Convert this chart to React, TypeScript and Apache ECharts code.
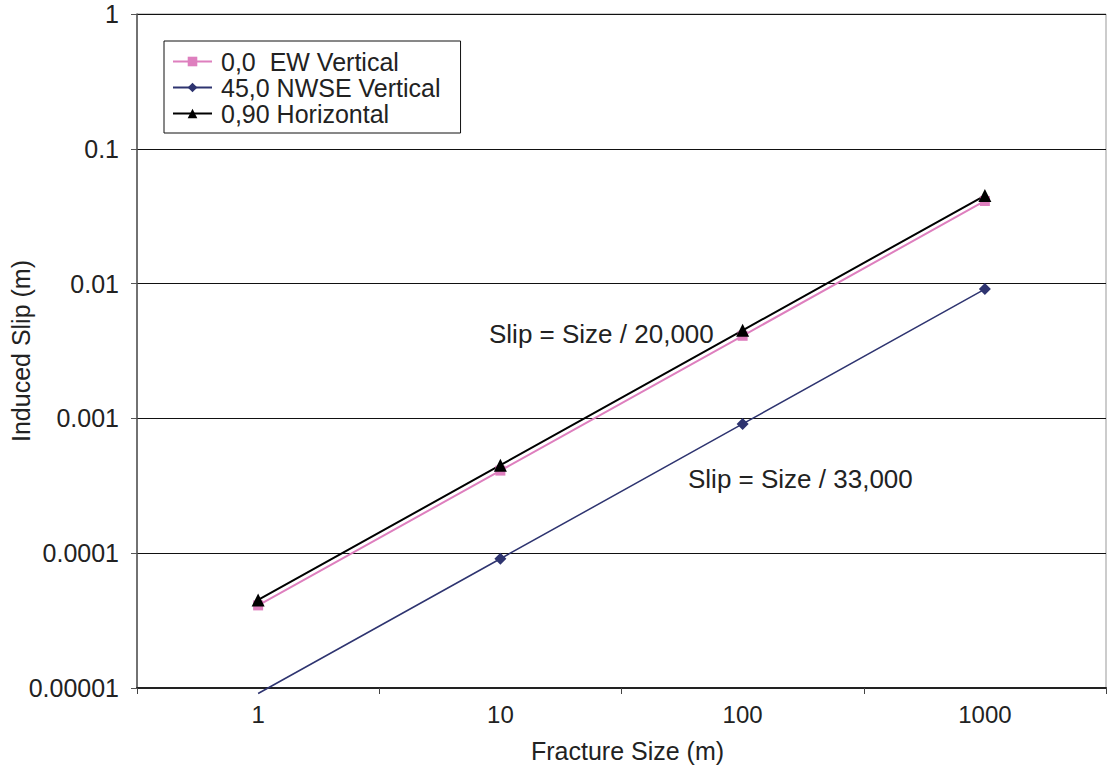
import React, { useEffect, useRef } from "react";
import * as echarts from "echarts";

const categories = ["1", "10", "100", "1000"];
const ewVertical = [4.1e-5, 4.1e-4, 4.1e-3, 4.1e-2];
const nwseVertical = [9.1e-6, 9.1e-5, 9.1e-4, 9.1e-3];
const horizontal = [4.5e-5, 4.5e-4, 4.5e-3, 4.5e-2];
const yTickLabels = ["0.00001", "0.0001", "0.001", "0.01", "0.1", "1"];
const seriesNames = ["0,0  EW Vertical", "45,0 NWSE Vertical", "0,90 Horizontal"];
const annotations = ["Slip = Size / 20,000", "Slip = Size / 33,000"];
const yMin = 0.00001;
const yMax = 1;

const FONT = "'Liberation Sans', Arial, Helvetica, sans-serif";

export default function App() {
  const ref = useRef<HTMLDivElement>(null);
  useEffect(() => {
    if (!ref.current) return;
    const chart = echarts.init(ref.current, undefined, { renderer: "svg" });
    const symSize = (big: number) => (v: any) => {
      const val = Array.isArray(v) ? v[1] : v;
      return val < yMin ? 0 : big;
    };
    chart.setOption({
      animation: false,
      backgroundColor: "#fff",
      textStyle: { fontFamily: FONT },
      grid: {
        left: 137,
        right: 1,
        top: 14,
        bottom: 84,
        containLabel: false,
        outerBoundsMode: "none",
        show: true,
        borderColor: "#999",
        borderWidth: 1,
        backgroundColor: "transparent",
      },
      legend: {
        orient: "vertical",
        left: 164,
        top: 41,
        data: seriesNames,
        borderColor: "#111",
        borderWidth: 1,
        padding: [8, 20, 7, 8],
        itemGap: 1,
        itemWidth: 39,
        itemHeight: 12,
        textStyle: { fontSize: 25, color: "#222", lineHeight: 25, fontFamily: FONT, padding: [0, 0, 0, 4] },
      },
      xAxis: {
        type: "category",
        data: categories,
        boundaryGap: true,
        name: "Fracture Size (m)",
        nameLocation: "middle",
        nameGap: 50,
        nameTextStyle: { fontSize: 25, color: "#222", fontFamily: FONT, padding: [0, 0, 0, 12] },
        axisLine: { show: true, lineStyle: { color: "#222", width: 2 } },
        axisTick: { show: true, interval: 0, length: 6, inside: false, lineStyle: { color: "#444" } },
        axisLabel: { fontSize: 24, color: "#222", margin: 14, fontFamily: FONT },
        splitLine: { show: false },
      },
      yAxis: {
        type: "log",
        logBase: 10,
        min: yMin,
        max: yMax,
        name: "Induced Slip (m)",
        nameLocation: "middle",
        nameRotate: 90,
        nameGap: 104,
        nameMoveOverlap: false,
        nameTextStyle: { fontSize: 25, color: "#222", fontFamily: FONT },
        axisLine: { show: true, lineStyle: { color: "#555", width: 1.5 } },
        axisTick: { show: true, length: 6, inside: false, lineStyle: { color: "#555" } },
        minorTick: { show: false },
        axisLabel: {
          fontSize: 25,
          color: "#222",
          margin: 18,
          fontFamily: FONT,
          formatter: (v: number) => {
            const idx = Math.round(Math.log10(v)) + 5;
            return yTickLabels[idx] ?? String(v);
          },
        },
        splitLine: { show: true, lineStyle: { color: "#111", width: 1 } },
      },
      series: [
        {
          name: seriesNames[0],
          type: "line",
          data: ewVertical,
          symbol: "rect",
          symbolSize: symSize(10),
          color: "#DE7FBE",
          lineStyle: { color: "#DE7FBE", width: 2 },
          itemStyle: { color: "#DE7FBE" },
          clip: false,
        },
        {
          name: seriesNames[1],
          type: "line",
          data: nwseVertical,
          symbol: "diamond",
          symbolSize: symSize(12),
          color: "#2E3470",
          lineStyle: { color: "#2E3470", width: 1.5 },
          itemStyle: { color: "#2E3470" },
          clip: false,
        },
        {
          name: seriesNames[2],
          type: "line",
          data: horizontal,
          symbol: "triangle",
          symbolSize: symSize(13),
          color: "#000",
          lineStyle: { color: "#000", width: 2 },
          itemStyle: { color: "#000" },
          clip: false,
        },
      ],
      graphic: [
        {
          type: "text",
          left: 489,
          top: 321,
          style: { text: annotations[0], fontSize: 26, fill: "#222", fontFamily: FONT },
        },
        {
          type: "text",
          left: 688,
          top: 466,
          style: { text: annotations[1], fontSize: 26, fill: "#222", fontFamily: FONT },
        },
      ],
    });
    return () => chart.dispose();
  }, []);
  return (
    <div
      ref={ref}
      style={{ position: "absolute", left: 0, top: 0, width: 1107, height: 772 }}
    />
  );
}
